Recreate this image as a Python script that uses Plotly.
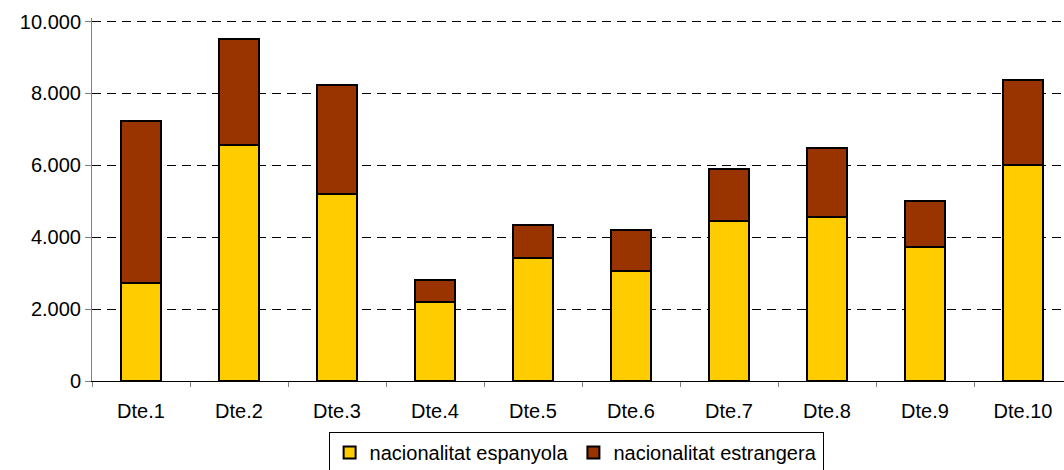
import plotly.graph_objects as go

categories = ["Dte.1", "Dte.2", "Dte.3", "Dte.4", "Dte.5", "Dte.6", "Dte.7", "Dte.8", "Dte.9", "Dte.10"]
espanyola = [2720, 6560, 5210, 2200, 3430, 3070, 4450, 4560, 3740, 6000]
totals = [7240, 9520, 8240, 2800, 4350, 4190, 5910, 6470, 5020, 8380]
estrangera = [t - e for t, e in zip(totals, espanyola)]
y_ticks = [0, 2000, 4000, 6000, 8000, 10000]

font = dict(family="Liberation Sans, Arial, sans-serif", size=20, color="#000000")

fig = go.Figure()
fig.add_trace(go.Bar(x=categories, y=espanyola, name="nacionalitat espanyola",
                     marker=dict(color="#FFCC00", line=dict(color="#000000", width=2))))
fig.add_trace(go.Bar(x=categories, y=estrangera, name="nacionalitat estrangera",
                     marker=dict(color="#993300", line=dict(color="#000000", width=2))))

fig.update_layout(
    barmode="stack",
    bargap=0.6,
    width=1080, height=470,
    margin=dict(l=92, r=8, t=18, b=89, autoexpand=False),
    paper_bgcolor="white", plot_bgcolor="white",
    font=font,
    separators=",.",
    showlegend=True,
    legend=dict(orientation="h", x=0.494, xanchor="center",
                yref="container", y=0.081, yanchor="top",
                bordercolor="#000000", borderwidth=1, font=font,
                traceorder="normal", itemwidth=30,
                tracegroupgap=0),
    xaxis=dict(showline=True, linecolor="#000000", linewidth=1,
               ticks="outside", tickson="boundaries", ticklen=5, tickcolor="#808080",
               ticklabelstandoff=12,
               showgrid=False, tickfont=font, automargin=False),
    yaxis=dict(range=[0, 10100], tickvals=y_ticks, tickformat=",d",
               showline=True, linecolor="#808080", linewidth=1,
               ticks="outside", ticklen=6, tickcolor="#808080",
               showgrid=True, gridcolor="#000000", gridwidth=1, griddash="9px,6px",
               zeroline=False, tickfont=font, automargin=False),
)

fig.write_html("out.html", config={"displayModeBar": False},
               post_script="document.body.style.overflow='hidden';document.body.style.margin='0';")
